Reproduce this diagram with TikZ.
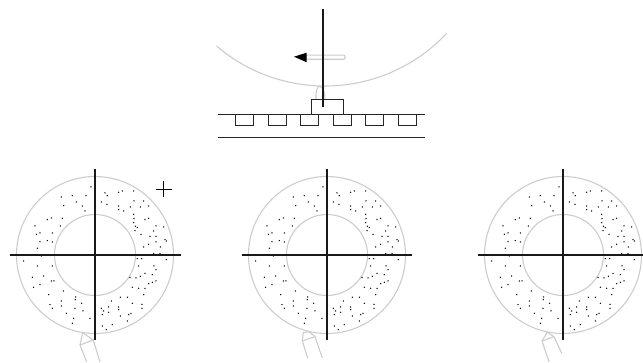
\documentclass[tikz,border=0pt]{standalone}
\usepackage{tikz}

\definecolor{ringgray}{gray}{0.8}
\def\ringdots{272/80,183/110,216/106,257/106,228/125,190/136,246/137,254/152,186/174,153/173,141/178,180/197,104/197,108/222,119/218,156/218,119/244,141/241,156/245,111/264,
314/98,321/106,303/125,320/132,355/96,366/92,400/92,401/122,430/122,355/137,355/148,370/152,390/140,420/140,445/137,400/162,401/175,400/187,434/178,445/174,405/198,411/202,467/197,490/200,460/212,422/222,449/228,467/228,404/211,445/252,430/260,467/245,480/260,494/238,498/242,460/280,452/285,479/280,498/298,
123/287,70/302,111/317,156/317,130/347,96/351,153/362,161/362,119/373,100/381,145/403,189/392,226/410,225/418,183/422,149/433,183/437,156/444,244/429,224/444,248/452,198/459,220/474,216/489,269/474,
411/295,424/295,415/317,461/317,467/328,434/339,456/343,389/351,407/353,420/348,467/362,456/366,445/370,396/381,415/384,434/384,430/403,360/411,381/411,333/422,396/429,425/432,425/444,325/440,303/444,310/452,325/456,355/440,355/448,360/467,385/463,392/459,381/482,306/497,336/493,318/508,306/463}

\begin{document}
\begin{tikzpicture}[x=1pt, y=-1pt,
		ring/.style={ringgray, line width=1.1pt},
		axis/.style={black!90, line width=1.6pt},
		rail/.style={black!85, line width=1.2pt}]
		\useasboundingbox (0,0) rectangle (643,363);
		
		% Large wheel (top)
		\begin{scope}
			\clip (216.7,0) rectangle (446.7,100);
			\draw[ring] (325,-81) circle (167pt);
		\end{scope}
		
		% Feed arrow
		\draw[ring, rounded corners=1pt] (306,55.2) rectangle (345,59.3);
		\fill[black] (294,56.7) -- (306.7,52.7) -- (306.7,62.3) -- cycle;
		
		% Hook under the wheel
		\draw[ring] (316,99) .. controls (315.5,90) and (318,85.5) .. (320,86.5)
			.. controls (323,87.5) and (325,92) .. (325,99);
		
		% Rail with slots
		\draw[rail] (218,114.5) -- (425,114.5);
		\draw[rail] (218,137.5) -- (425,137.5);
		\foreach \x in {235.5,268.5,300.5,333.5,365.5,398.5}
		\draw[rail] (\x,114.5) -- (\x,125.5) -- (\x+18,125.5) -- (\x+18,114.5);
		
		% Block on rail
		\draw[rail] (311.5,114.5) -- (311.5,99.5) -- (343.5,99.5) -- (343.5,114.5);
		
		% Vertical axis (top)
		\draw[axis] (323,9) -- (323,107.3);
		
		% Rings
		\foreach \cx/\xl/\xr in {95/-85.5/85.5, 327/-85.5/84.5, 563/-85.5/80}
		{
			\begin{scope}[shift={(\cx,255)}]
				\draw[ring] (0,0) circle (78.5pt);
				\draw[ring] (0,0) circle (40.5pt);
				\foreach \dx/\dy in \ringdots
				\fill[black] ({\dx/3-94.67},{\dy/3-94.67}) circle (0.75pt);
				\draw[axis] (\xl,0) -- (\xr,0);
				\draw[axis] (0,-85.5) -- (0,85.5);
			\end{scope}
		}
		
		% Plus sign
		\draw[black, line width=1.2pt] (155.5,189.5) -- (171.5,189.5);
		\draw[black, line width=1.2pt] (163.5,181.3) -- (163.5,197.3);
		
		% Pens
		\draw[ring] (100,362) -- (93.3,340) -- (82.7,332.7) -- (80,345) -- (86.7,362);
		\draw[ring] (80,345) -- (93.3,340);
		\draw[ring] (322.3,358) -- (315,336.7) -- (309,331.7) -- (303.3,332.7) -- (302.3,341) -- (307.7,358);
		\draw[ring] (302.3,341) -- (315,336.7);
		\draw[ring] (561.7,353.3) -- (554,336.7) -- (547.3,332.3) -- (542,341) -- (549,361.7);
		\draw[ring] (542,341) -- (554,336.7);
		
	\end{tikzpicture}
\end{document}
